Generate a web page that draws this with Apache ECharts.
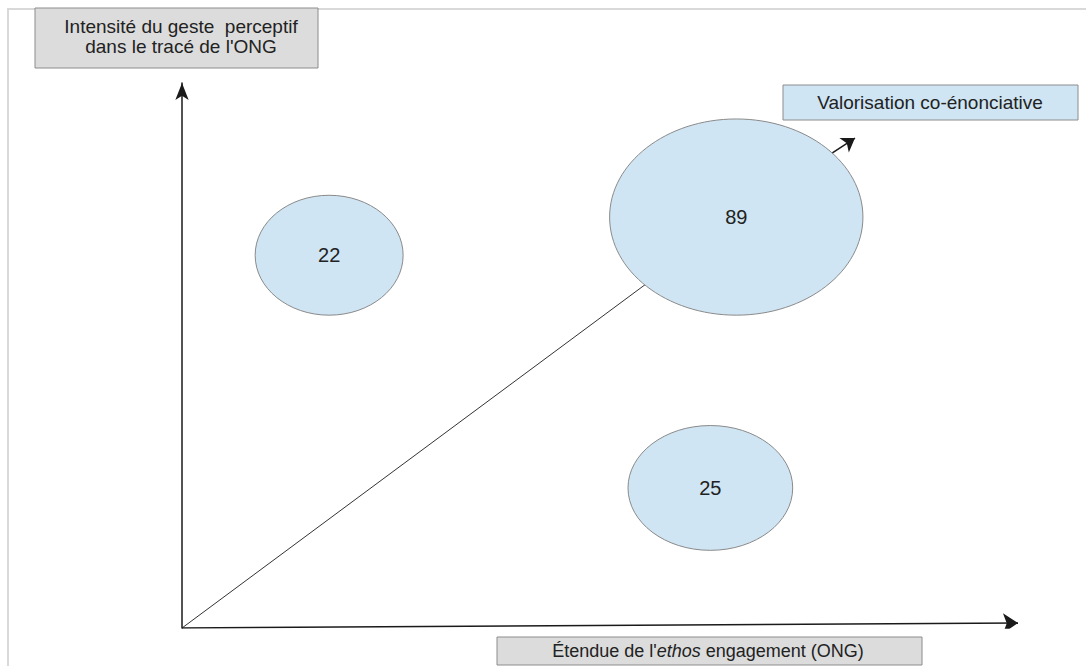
<!DOCTYPE html>
<html>
<head>
<meta charset="utf-8">
<script src="https://cdn.jsdelivr.net/npm/echarts@6/dist/echarts.min.js"></script>
<style>html,body{margin:0;padding:0;background:#fff}#c{width:1086px;height:666px}</style>
</head>
<body>
<div id="c"></div>
<script>
// Bubble data (axis units 0-100)
var bubbleLabels = [22, 89, 25];
var bubbleX = [17.6, 66.3, 63.2];
var bubbleY = [68.4, 75.4, 25.7];
var bubbleW = [17.7, 30.3, 19.7];
var bubbleH = [22.0, 36.0, 22.9];
// Diagonal from origin to the 89 bubble
var diagonal = [[0, 0], [66.3, 75.4]];
// Small arrow from the 89 bubble toward its annotation
var annotArrow = [[77.8, 87.2], [80.5, 89.9]];
// Horizontal axis line (slightly rising in the original)
var xAxisLine = [[0, 0], [100, 0.9]];
var yTitleLines = ['Intensité du geste  perceptif', "dans le tracé de l'ONG"];
var xTitle = "Étendue de l'{i|ethos} engagement (ONG)";
var annotText = 'Valorisation co-énonciative';

var bubbles = bubbleLabels.map(function (v, i) {
  return [bubbleX[i], bubbleY[i], bubbleW[i], bubbleH[i], v];
});

var chart = echarts.init(document.getElementById('c'), null, {renderer: 'svg'});
var font = '"Liberation Sans", Arial, sans-serif';
chart.setOption({
  animation: false,
  backgroundColor: '#fff',
  grid: {left: 182, top: 83, width: 836, height: 545},
  xAxis: {type: 'value', min: 0, max: 100, axisLine: {show: false}, axisTick: {show: false},
    axisLabel: {show: false}, splitLine: {show: false}},
  yAxis: {type: 'value', min: 0, max: 100,
    axisLine: {show: true, symbol: ['none', 'arrow'], symbolSize: [10, 17],
      lineStyle: {color: '#1a1a1a', width: 1.5}},
    axisTick: {show: false}, axisLabel: {show: false}, splitLine: {show: false}},
  graphic: [
    {type: 'rect', silent: true, z: -10,
      shape: {x: 8, y: 9, width: 1200, height: 800},
      style: {fill: 'none', stroke: '#d9d9d9', lineWidth: 2}},
    {type: 'rect', shape: {x: 35, y: 8, width: 283, height: 60},
      style: {fill: '#dcdcdc', stroke: '#8c8c8c', lineWidth: 1}},
    {type: 'text', x: 181, y: 36,
      style: {text: yTitleLines.join('\n'), align: 'center', verticalAlign: 'middle',
        fontSize: 19, fontFamily: font, fill: '#222', lineHeight: 20}},
    {type: 'rect', shape: {x: 497, y: 637, width: 425, height: 28},
      style: {fill: '#dcdcdc', stroke: '#8c8c8c', lineWidth: 1}},
    {type: 'text', x: 708, y: 651,
      style: {text: xTitle, align: 'center', verticalAlign: 'middle', fontSize: 18,
        fontFamily: font, fill: '#222',
        rich: {i: {fontStyle: 'italic', fontSize: 18, fontFamily: font, fill: '#222'}}}},
    {type: 'rect', shape: {x: 783, y: 85, width: 295, height: 35},
      style: {fill: '#cfe5f3', stroke: '#8c8c8c', lineWidth: 1}},
    {type: 'text', x: 930, y: 102,
      style: {text: annotText, align: 'center', verticalAlign: 'middle', fontSize: 19,
        fontFamily: font, fill: '#222'}}
  ],
  series: [
    {type: 'lines', coordinateSystem: 'cartesian2d', z: 1, silent: true,
      symbol: ['none', 'none'],
      lineStyle: {color: '#333', width: 1, opacity: 1},
      data: [{coords: diagonal}]},
    {type: 'lines', coordinateSystem: 'cartesian2d', z: 3, silent: true,
      symbol: ['none', 'arrow'], symbolSize: 15,
      lineStyle: {color: '#1a1a1a', width: 1.5, opacity: 1},
      data: [{coords: xAxisLine}, {coords: annotArrow, symbolSize: 13}]},
    {type: 'custom', z: 2, silent: true,
      renderItem: function (params, api) {
        var c = api.coord([api.value(0), api.value(1)]);
        var s = api.size([api.value(2), api.value(3)]);
        return {
          type: 'ellipse',
          shape: {cx: c[0], cy: c[1], rx: s[0] / 2, ry: s[1] / 2},
          style: {fill: '#cfe5f3', stroke: '#8a8a8a', lineWidth: 1},
          textContent: {style: {text: String(api.value(4)), fontSize: 20, fontFamily: font, fill: '#222'}},
          textConfig: {position: 'inside'}
        };
      },
      data: bubbles}
  ]
});
</script>
</body>
</html>
